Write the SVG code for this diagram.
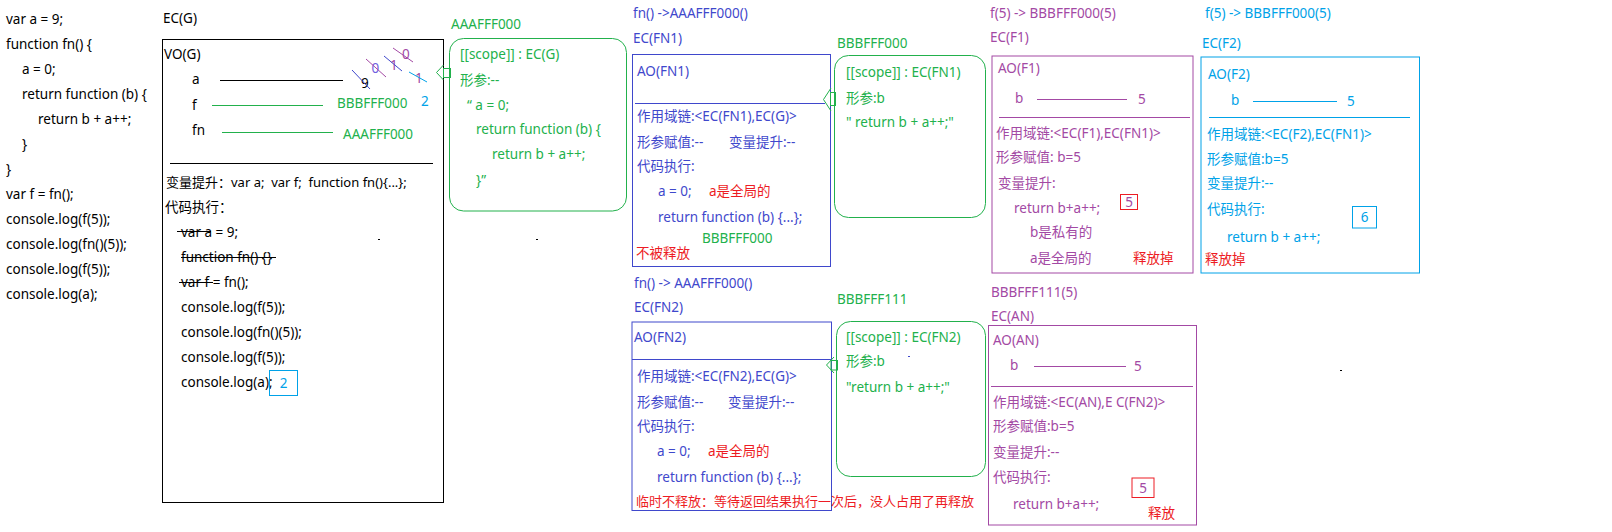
<svg xmlns="http://www.w3.org/2000/svg" width="1612" height="532" viewBox="0 0 1612 532">
<style>
text{font-family:"Noto Sans","Noto Sans CJK SC",sans-serif;font-size:13.5px;white-space:pre;fill:#000}
.g{fill:#22B14C}.b{fill:#3F48CC}.p{fill:#A349A4}.c{fill:#00A2E8}.r{fill:#ED1C24}
.s{font-size:13px}
.box{fill:none;stroke-width:1}
.mid{text-anchor:middle}
</style>
<rect width="1612" height="532" fill="#fff"/>
<g id="code">
<text x="6" y="24">var a = 9;</text>
<text x="6" y="49">function fn() {</text>
<text x="22" y="74">a = 0;</text>
<text x="22" y="99">return function (b) {</text>
<text x="38" y="124">return b + a++;</text>
<text x="22" y="149">}</text>
<text x="6" y="174">}</text>
<text x="6" y="199">var f = fn();</text>
<text x="6" y="224">console.log(f(5));</text>
<text x="6" y="249">console.log(fn()(5));</text>
<text x="6" y="274">console.log(f(5));</text>
<text x="6" y="299">console.log(a);</text>
</g>
<g id="ecg">
<text x="163" y="23">EC(G)</text>
<rect class="box" x="162.5" y="39.5" width="281" height="463" stroke="#000"/>
<text x="164" y="59">VO(G)</text>
<text x="192" y="84">a</text>
<line x1="220" y1="80.5" x2="343" y2="80.5" stroke="#000"/>
<text x="361" y="88">9</text>
<line x1="352" y1="70" x2="370" y2="89" stroke="#3F48CC"/>
<text x="371.5" y="73" style="fill:#7060E0">0</text>
<line x1="366" y1="59" x2="386" y2="77" stroke="#A349A4"/>
<text x="390" y="70" class="p">1</text>
<line x1="384" y1="56" x2="402" y2="71" stroke="#3F48CC"/>
<text x="402" y="59" class="p">0</text>
<line x1="393" y1="48" x2="413" y2="62" stroke="#A349A4"/>
<text x="415" y="83" class="p">1</text>
<line x1="409" y1="72" x2="427" y2="82" stroke="#00A2E8"/>
<text x="192" y="110">f</text>
<line x1="212" y1="105.5" x2="323" y2="105.5" stroke="#22B14C"/>
<text x="337" y="108" class="g">BBBFFF000</text>
<text x="421" y="106" class="c">2</text>
<text x="192" y="135">fn</text>
<line x1="222" y1="132.5" x2="333" y2="132.5" stroke="#22B14C"/>
<text x="343" y="139" class="g">AAAFFF000</text>
<line x1="170" y1="163.5" x2="433" y2="163.5" stroke="#000"/>
<text x="166" y="187" class="s">变量提升：var a;  var f;  function fn(){...};</text>
<text x="165" y="212">代码执行：</text>
<text x="181" y="237">var a = 9;</text>
<line x1="177" y1="231.5" x2="211" y2="231.5" stroke="#000"/>
<text x="181" y="262">function fn() {}</text>
<line x1="181" y1="257.5" x2="276" y2="257.5" stroke="#000"/>
<text x="181" y="287">var f = fn();</text>
<line x1="179" y1="282.5" x2="213" y2="282.5" stroke="#000"/>
<text x="181" y="312">console.log(f(5));</text>
<text x="181" y="337">console.log(fn()(5));</text>
<text x="181" y="362">console.log(f(5));</text>
<text x="181" y="387">console.log(a);</text>
<rect class="box" x="269.5" y="370.5" width="28" height="25" stroke="#00A2E8"/>
<text x="283.5" y="388" class="c mid">2</text>
<line x1="378" y1="239.5" x2="380" y2="239.5" stroke="#000"/>
</g>
<g id="aaafff000">
<text x="451" y="29" class="g">AAAFFF000</text>
<rect class="box" x="449.5" y="38.5" width="177" height="172.5" rx="14" stroke="#22B14C"/>
<text x="460" y="59" class="g">[[scope]] : EC(G)</text>
<text x="460" y="85" class="g">形参:--</text>
<text x="467" y="110" class="g">“ a = 0;</text>
<text x="476" y="134" class="g">return function (b) {</text>
<text x="492" y="159" class="g">return b + a++;</text>
<text x="476" y="185" class="g">}”</text>
</g>
<g id="ecfn1">
<text x="633" y="18" class="b">fn() -&gt;AAAFFF000()</text>
<text x="633" y="43" class="b">EC(FN1)</text>
<rect class="box" x="632.5" y="54.5" width="198" height="212" stroke="#3F48CC"/>
<text x="637" y="76" class="b">AO(FN1)</text>
<line x1="635" y1="103.5" x2="825" y2="103.5" stroke="#3F48CC"/>
<text x="637" y="121" class="b">作用域链:&lt;EC(FN1),EC(G)&gt;</text>
<text x="637" y="147" class="b">形参赋值:--</text>
<text x="729" y="147" class="b">变量提升:--</text>
<text x="637" y="171" class="b">代码执行:</text>
<text x="658" y="196" class="b">a = 0;</text>
<text x="709" y="196" class="r">a是全局的</text>
<text x="658" y="222" class="b">return function (b) {...};</text>
<text x="702" y="243" class="g">BBBFFF000</text>
<text x="636" y="258" class="r">不被释放</text>
</g>
<g id="ecfn2">
<text x="634" y="288" class="b">fn() -&gt; AAAFFF000()</text>
<text x="634" y="312" class="b">EC(FN2)</text>
<rect class="box" x="632" y="322" width="199.5" height="188.5" stroke="#3F48CC"/>
<text x="634" y="342" class="b">AO(FN2)</text>
<line x1="632" y1="359.5" x2="831" y2="359.5" stroke="#3F48CC"/>
<text x="637" y="381" class="b">作用域链:&lt;EC(FN2),EC(G)&gt;</text>
<text x="637" y="407" class="b">形参赋值:--</text>
<text x="728" y="407" class="b">变量提升:--</text>
<text x="637" y="431" class="b">代码执行:</text>
<text x="657" y="456" class="b">a = 0;</text>
<text x="708" y="456" class="r">a是全局的</text>
<text x="657" y="482" class="b">return function (b) {...};</text>
<text x="636" y="506" class="r s">临时不释放：等待返回结果执行一次后，没人占用了再释放</text>
</g>
<g id="bbbfff000">
<text x="837" y="48" class="g">BBBFFF000</text>
<rect class="box" x="834.5" y="55.5" width="151" height="162" rx="14" stroke="#22B14C"/>
<text x="846" y="77" class="g">[[scope]] : EC(FN1)</text>
<text x="846" y="103" class="g">形参:b</text>
<text x="846" y="127" class="g">" return b + a++;"</text>
</g>
<g id="bbbfff111">
<text x="837" y="304" class="g">BBBFFF111</text>
<rect class="box" x="836.5" y="321.5" width="149" height="155" rx="14" stroke="#22B14C"/>
<text x="846" y="342" class="g">[[scope]] : EC(FN2)</text>
<text x="846" y="366" class="g">形参:b</text>
<text x="846" y="392" class="g">"return b + a++;"</text>
<line x1="908" y1="356.5" x2="910" y2="356.5" stroke="#3F48CC"/>
</g>
<g id="ecf1">
<text x="990" y="18" class="p">f(5) -&gt; BBBFFF000(5)</text>
<text x="990" y="42" class="p">EC(F1)</text>
<rect class="box" x="992" y="56" width="201" height="217" stroke="#A349A4"/>
<text x="998" y="73" class="p">AO(F1)</text>
<text x="1015" y="103" class="p">b</text>
<line x1="1037" y1="99.5" x2="1127" y2="99.5" stroke="#A349A4"/>
<text x="1138" y="104" class="p">5</text>
<line x1="999" y1="117.5" x2="1190" y2="117.5" stroke="#A349A4"/>
<text x="996" y="138" class="p">作用域链:&lt;EC(F1),EC(FN1)&gt;</text>
<text x="996" y="162" class="p">形参赋值: b=5</text>
<text x="998" y="188" class="p">变量提升:</text>
<text x="1014" y="213" class="p">return b+a++;</text>
<rect class="box" x="1120.5" y="194.5" width="17" height="15" stroke="#ED1C24"/>
<text x="1129" y="207" class="p mid">5</text>
<text x="1030" y="237" class="p">b是私有的</text>
<text x="1030" y="263" class="p">a是全局的</text>
<text x="1133" y="263" class="r">释放掉</text>
</g>
<g id="ecf2">
<text x="1205" y="18" class="c">f(5) -&gt; BBBFFF000(5)</text>
<text x="1202" y="48" class="c">EC(F2)</text>
<rect class="box" x="1201" y="57" width="218.5" height="216" stroke="#00A2E8"/>
<text x="1208" y="79" class="c">AO(F2)</text>
<text x="1231" y="105" class="c">b</text>
<line x1="1253" y1="101.5" x2="1337" y2="101.5" stroke="#00A2E8"/>
<text x="1347" y="106" class="c">5</text>
<line x1="1209" y1="117.5" x2="1410" y2="117.5" stroke="#00A2E8"/>
<text x="1207" y="139" class="c">作用域链:&lt;EC(F2),EC(FN1)&gt;</text>
<text x="1207" y="164" class="c">形参赋值:b=5</text>
<text x="1207" y="188" class="c">变量提升:--</text>
<text x="1207" y="214" class="c">代码执行:</text>
<text x="1227" y="242" class="c">return b + a++;</text>
<rect class="box" x="1352.5" y="206.5" width="24" height="21.5" stroke="#00A2E8"/>
<text x="1364.5" y="222" class="c mid">6</text>
<text x="1205" y="264" class="r">释放掉</text>
</g>
<g id="ecan">
<text x="991" y="297" class="p">BBBFFF111(5)</text>
<text x="991" y="321" class="p">EC(AN)</text>
<rect class="box" x="988.5" y="325.5" width="208" height="199.5" stroke="#A349A4"/>
<text x="993" y="345" class="p">AO(AN)</text>
<text x="1010" y="370" class="p">b</text>
<line x1="1034" y1="366.5" x2="1126" y2="366.5" stroke="#A349A4"/>
<text x="1134" y="371" class="p">5</text>
<line x1="991" y1="386.5" x2="1193" y2="386.5" stroke="#A349A4"/>
<text x="993" y="407" class="p">作用域链:&lt;EC(AN),E C(FN2)&gt;</text>
<text x="993" y="431" class="p">形参赋值:b=5</text>
<text x="993" y="457" class="p">变量提升:--</text>
<text x="993" y="482" class="p">代码执行:</text>
<text x="1013" y="509" class="p">return b+a++;</text>
<rect class="box" x="1132" y="478" width="22" height="19.5" stroke="#ED1C24"/>
<text x="1143" y="493" class="p mid">5</text>
<text x="1148" y="518" class="r">释放</text>
</g>
<g id="marks">
<line x1="536" y1="239.5" x2="538" y2="239.5" stroke="#000"/>
<line x1="1340" y1="370.5" x2="1342" y2="370.5" stroke="#000"/>
</g>
<g id="connectors" fill="none" stroke="#22B14C" stroke-width="1">
<polyline points="443.5,65 436.5,72.5 443.5,80"/>
<rect x="443.5" y="68.5" width="7" height="9"/>
<polyline points="831,88 823.5,99.5 831,111"/>
<rect x="830.5" y="92.5" width="5" height="13"/>
<polyline points="834,357 826.5,365 834,373"/>
<rect x="831" y="360.5" width="6.5" height="9.5"/>
</g>
</svg>
